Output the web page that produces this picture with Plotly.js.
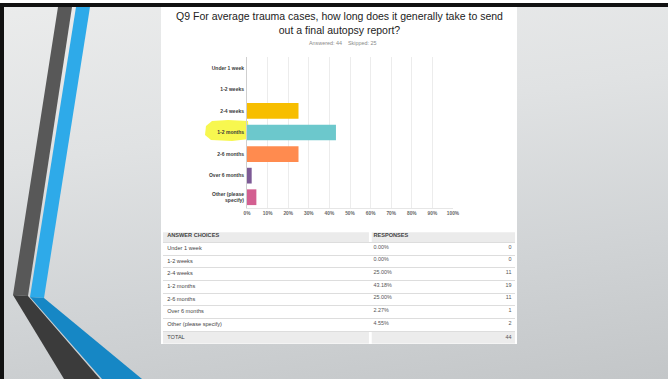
<!DOCTYPE html>
<html><head><meta charset="utf-8">
<script src="https://cdn.plot.ly/plotly-3.0.1.min.js"></script>
<style>
html,body{margin:0;padding:0;}
body{width:668px;height:379px;overflow:hidden;background:linear-gradient(172deg,#ebecec 0%,#e0e2e3 35%,#d0d3d5 70%,#c3c6c8 100%);}
#chart{width:668px;height:379px;}
</style></head><body><div id="chart"></div>
<script>
// ---- data ----
const questionTitle = 'Q9 For average trauma cases, how long does it generally take to send<br>out a final autopsy report?';
const answeredCount = 44;
const skippedCount = 25;
const choices = ['Under 1 week', '1-2 weeks', '2-4 weeks', '1-2 months', '2-6 months', 'Over 6 months', 'Other (please specify)'];
const percents = [0.00, 0.00, 25.00, 43.18, 25.00, 2.27, 4.55];
const counts = [0, 0, 11, 19, 11, 1, 2];
const totalCount = 44;
const headerLabels = ['ANSWER CHOICES', 'RESPONSES'];
const totalLabel = 'TOTAL';
const xTickVals = [0, 10, 20, 30, 40, 50, 60, 70, 80, 90, 100];
const xTickText = ['0%', '10%', '20%', '30%', '40%', '50%', '60%', '70%', '80%', '90%', '100%'];
const barColors = ['#00BF6F', '#507CB6', '#F7BE00', '#6CC8CC', '#FF8B4F', '#7D5A96', '#D35F91'];

// ---- helpers (page geometry) ----
const W = 668, H = 379;
const px = x => x / W;
const py = y => 1 - y / H;
function poly(pts) { return 'M ' + pts.map(p => px(p[0]).toFixed(5) + ',' + py(p[1]).toFixed(5)).join(' L ') + ' Z'; }
function rect(x0, y0, x1, y1, color) {
  return {type: 'rect', xref: 'paper', yref: 'paper', x0: px(x0), x1: px(x1), y0: py(y1), y1: py(y0),
          fillcolor: color, line: {width: 0}, layer: 'below'};
}
function pathShape(pts, color) {
  return {type: 'path', xref: 'paper', yref: 'paper', path: poly(pts), fillcolor: color, line: {width: 0}, layer: 'below'};
}
const FONT = 'Liberation Sans, Arial, sans-serif';
const wrapLabel = s => s.replace(' specify', '<br>specify');

// table rows: header, one per choice, total -> row index used as y position on the table axis
const tableRows = [headerLabels[0]].concat(choices, [totalLabel]);
const rowIndex = tableRows.map((_, i) => i);
const choiceRows = choices.map((_, i) => i + 1);
const totalRow = tableRows.length - 1;
const colX = {label: 0.012, pct: 0.598, count: 0.99};

const traces = [
  {
    type: 'bar', orientation: 'h', x: percents, y: choices,
    marker: {color: barColors, line: {width: 0}},
    xaxis: 'x', yaxis: 'y', hoverinfo: 'skip'
  },
  {
    type: 'scatter', mode: 'text', xaxis: 'x2', yaxis: 'y2', hoverinfo: 'skip',
    x: rowIndex.map(() => colX.label), y: rowIndex,
    text: tableRows.map((r, i) => i === 0 ? '<b>' + r + '</b>' : r),
    textposition: 'middle right', textfont: {family: FONT, size: 5.6, color: '#444'}
  },
  {
    type: 'scatter', mode: 'text', xaxis: 'x2', yaxis: 'y2', hoverinfo: 'skip',
    x: [colX.pct], y: [0], text: ['<b>' + headerLabels[1] + '</b>'],
    textposition: 'middle right', textfont: {family: FONT, size: 5.6, color: '#444'}
  },
  {
    type: 'scatter', mode: 'text', xaxis: 'x2', yaxis: 'y2', hoverinfo: 'skip',
    x: choiceRows.map(() => colX.pct), y: choiceRows.map(r => r - 0.12),
    text: percents.map(p => p.toFixed(2) + '%'),
    textposition: 'middle right', textfont: {family: FONT, size: 5.4, color: '#555'}
  },
  {
    type: 'scatter', mode: 'text', xaxis: 'x2', yaxis: 'y2', hoverinfo: 'skip',
    x: choiceRows.concat([totalRow]).map(() => colX.count), y: choiceRows.map(r => r - 0.12).concat([totalRow]),
    text: counts.map(String).concat([String(totalCount)]),
    textposition: 'middle left', textfont: {family: FONT, size: 5.4, color: '#555'}
  }
];

const shapes = [
  // slide frame
  rect(0, 0, 668, 3, '#ffffff'),
  rect(0, 3, 668, 7, '#111111'),
  rect(0, 3, 4, 379, '#111111'),
  // decorative stripes
  pathShape([[58, 7], [72, 7], [28, 296], [13, 295]], '#585858'),
  pathShape([[76, 7], [90, 7], [44, 298], [30, 297]], '#2eaae9'),
  pathShape([[13, 295], [28, 296], [100, 379], [64, 379]], '#3b3b3b'),
  pathShape([[30, 297], [44, 298], [142, 379], [102, 379]], '#1687c5'),
  // white panel
  rect(161, 7, 517, 344, '#ffffff'),
  // highlighter mark
  pathShape([[206, 126], [212, 121], [228, 120], [248, 121], [249, 139], [232, 141], [211, 140], [205, 135]], 'rgba(246,246,60,0.9)'),
  // table header / total backgrounds
  {type: 'rect', xref: 'x2', yref: 'y2', x0: 0, x1: 0.585, y0: -0.3, y1: 0.5, fillcolor: '#ebebeb', line: {width: 0}, layer: 'below'},
  {type: 'rect', xref: 'x2', yref: 'y2', x0: 0.593, x1: 1, y0: -0.3, y1: 0.5, fillcolor: '#ebebeb', line: {width: 0}, layer: 'below'},
  {type: 'rect', xref: 'x2', yref: 'y2', x0: 0, x1: 0.585, y0: totalRow - 0.5, y1: totalRow + 0.5, fillcolor: '#ececec', line: {width: 0}, layer: 'below'},
  {type: 'rect', xref: 'x2', yref: 'y2', x0: 0.593, x1: 1, y0: totalRow - 0.5, y1: totalRow + 0.5, fillcolor: '#ececec', line: {width: 0}, layer: 'below'}
];

const layout = {
  width: W, height: H,
  margin: {l: 0, r: 0, t: 0, b: 0, pad: 0},
  paper_bgcolor: 'rgba(0,0,0,0)', plot_bgcolor: 'rgba(0,0,0,0)',
  showlegend: false,
  bargap: 0.27,
  font: {family: FONT},
  title: {
    text: questionTitle, x: px(339.5), xanchor: 'center', xref: 'paper',
    y: py(20), yanchor: 'middle', yref: 'container',
    font: {family: FONT, size: 10.5, color: '#222'}
  },
  annotations: [{
    text: 'Answered: ' + answeredCount + '\u00a0\u00a0\u00a0\u00a0Skipped: ' + skippedCount,
    xref: 'paper', yref: 'paper', x: px(342), y: py(43), xanchor: 'center', yanchor: 'middle',
    showarrow: false, font: {family: FONT, size: 5.4, color: '#8a8a8a'}
  }],
  xaxis: {
    domain: [px(247), px(453)], range: [0, 100], anchor: 'y',
    tickmode: 'array', tickvals: xTickVals, ticktext: xTickText,
    showgrid: true, gridcolor: '#ececec', gridwidth: 1, zeroline: false,
    showline: true, linecolor: '#e6e6e6', linewidth: 1, ticks: '',
    tickfont: {family: FONT, size: 4.8, color: '#666', weight: 'bold'}
  },
  yaxis: {
    domain: [py(208), py(57)], type: 'category', autorange: 'reversed', anchor: 'x',
    tickmode: 'array', tickvals: choices, ticktext: choices.map(wrapLabel),
    showgrid: false, zeroline: false, showline: true, linecolor: '#cfcfcf', linewidth: 1, ticks: '',
    ticklabelstandoff: 1,
    tickfont: {family: FONT, size: 5, color: '#3a3a3a', weight: 'bold'}
  },
  xaxis2: {domain: [px(163), px(515)], range: [0, 1], anchor: 'y2', visible: false},
  yaxis2: {
    domain: [py(343.7), py(229.7)], anchor: 'x2', type: 'linear',
    range: [totalRow + 0.5, -0.5],
    tickmode: 'linear', tick0: 0.5, dtick: 1,
    showgrid: true, gridcolor: '#dddddd', gridwidth: 1,
    showticklabels: false, ticks: '', zeroline: false, showline: false
  },
  shapes: shapes
};

Plotly.newPlot('chart', traces, layout, {staticPlot: true, displayModeBar: false});
</script>
</body></html>
